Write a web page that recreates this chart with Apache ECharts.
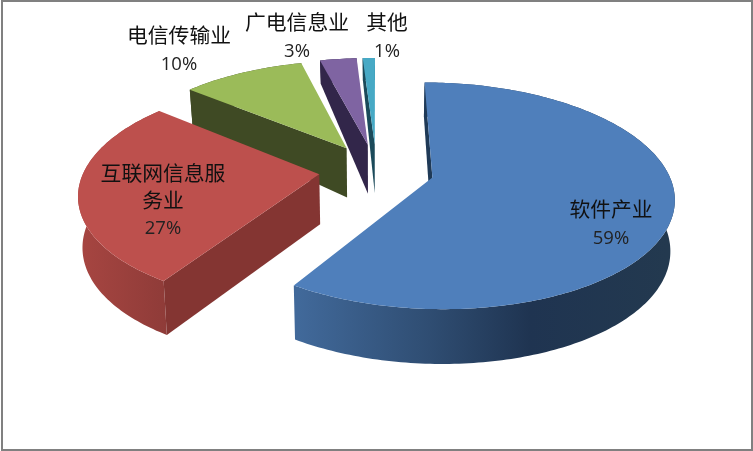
<!DOCTYPE html>
<html><head><meta charset="utf-8">
<script src="https://cdn.jsdelivr.net/npm/echarts@6/dist/echarts.min.js"></script>
<style>html,body{margin:0;padding:0;background:#fff}#c{width:753px;height:451px}</style>
</head><body><div id="c"></div>
<script>
// data
const categories = ['软件产业', '互联网信息服务业', '电信传输业', '广电信息业', '其他'];
const shares = [59, 27, 10, 3, 1];

// styling, one entry per category
const topColors = ['#4F7FBB', '#BD504D', '#9BBB59', '#7F64A2', '#47A9C5'];
const sideColors = ['#1F3A57', '#843532', '#3F4A24', '#32264A', '#1B4A5A'];
const rimStops = [
  [[298, '#41699A'], [430, '#2F4D72'], [530, '#1F3451'], [668, '#23394F']],
  [[82, '#A64541'], [170, '#8E3B38']],
  [[190, '#3F4A24'], [300, '#3F4A24']],
  [[316, '#32264A'], [355, '#32264A']],
  [[361, '#1B4A5A'], [375, '#1B4A5A']]
];
const labelCenters = [[611, 225], [163, 202], [179, 51], [297, 38], [387, 38]];
const lineChars = 6;

// projection of the tilted, exploded disc
const CX = 376.5, CY = 170, RX = 235, RY = 108, PERSP = 0.16, EXPLODE = 0.245;
function depth(y) { return y > 0 ? 50 - 18 * y * y : 50 - 4.5 * y; }
function project(x, y, down) {
  const s = 1 / (1 + PERSP * y);
  const d = down ? depth(y) : 0;
  return [CX + RX * x * s * (down ? 0.985 : 1), CY - RY * y * s + d];
}

const total = shares.reduce((a, b) => a + b, 0);
const DEG = Math.PI / 180;
function sliceShapes(index) {
  let start = 0;
  for (let i = 0; i < index; i++) start += shares[i] / total * 360;
  const end = start + shares[index] / total * 360;
  const mid = (start + end) / 2 * DEG;
  const ox = EXPLODE * Math.sin(mid), oy = EXPLODE * Math.cos(mid);
  const top = [], rim = [], rimLow = [];
  const n = Math.max(4, Math.ceil(end - start));
  for (let k = 0; k <= n; k++) {
    const a = (start + (end - start) * k / n) * DEG;
    const x = ox + Math.sin(a), y = oy + Math.cos(a);
    rim.push(project(x, y, false));
    rimLow.push(project(x, y, true));
  }
  const apex = project(ox, oy, false), apexLow = project(ox, oy, true);
  return {
    top: [apex].concat(rim),
    wall: rim.concat(rimLow.slice().reverse()),
    face: [apex, rim[0], rimLow[0], apexLow]
  };
}

function wrap(name) {
  const parts = [];
  for (let i = 0; i < name.length; i += lineChars) parts.push(name.slice(i, i + lineChars));
  return parts;
}

const chart = echarts.init(document.getElementById('c'), null, { renderer: 'canvas' });
const drawOrder = [4, 3, 2, 1, 0];

chart.setOption({
  animation: false,
  backgroundColor: '#fff',
  tooltip: { show: false },
  series: [{
    type: 'custom',
    coordinateSystem: 'none',
    silent: true,
    data: drawOrder.map(i => [i, shares[i]]),
    renderItem(params, api) {
      const i = api.value(0);
      const g = sliceShapes(i);
      const xs = rimStops[i].map(s => s[0]);
      const x0 = xs[0], x1 = xs[xs.length - 1];
      const grad = new echarts.graphic.LinearGradient(x0, 0, x1, 0,
        rimStops[i].map(s => ({ offset: (s[0] - x0) / (x1 - x0), color: s[1] })), true);
      return {
        type: 'group',
        children: [
          { type: 'polygon', shape: { points: g.wall }, style: { fill: grad } },
          { type: 'polygon', shape: { points: g.face }, style: { fill: sideColors[i] } },
          { type: 'polygon', shape: { points: g.top }, style: { fill: topColors[i] } }
        ]
      };
    }
  }],
  graphic: [
    { type: 'rect', z: 5, silent: true, shape: { x: 2, y: 1, width: 750, height: 449 },
      style: { fill: 'none', stroke: '#808080', lineWidth: 2 } }
  ].concat(categories.map((name, i) => ({
    type: 'text', z: 10, silent: true,
    x: labelCenters[i][0], y: labelCenters[i][1],
    style: {
      text: wrap(name).map(l => '{n|' + l + '}').join('\n') + '\n{p|' + shares[i] + '%}',
      align: 'center', verticalAlign: 'middle',
      fill: '#111',
      rich: {
        n: { fontFamily: '"Noto Sans CJK SC"', fontSize: 20.8, lineHeight: 27, align: 'center', fill: '#111' },
        p: { fontFamily: '"Open Sans"', fontSize: 18.5, lineHeight: 31, align: 'center', fill: '#222' }
      }
    }
  })))
});
</script></body></html>
